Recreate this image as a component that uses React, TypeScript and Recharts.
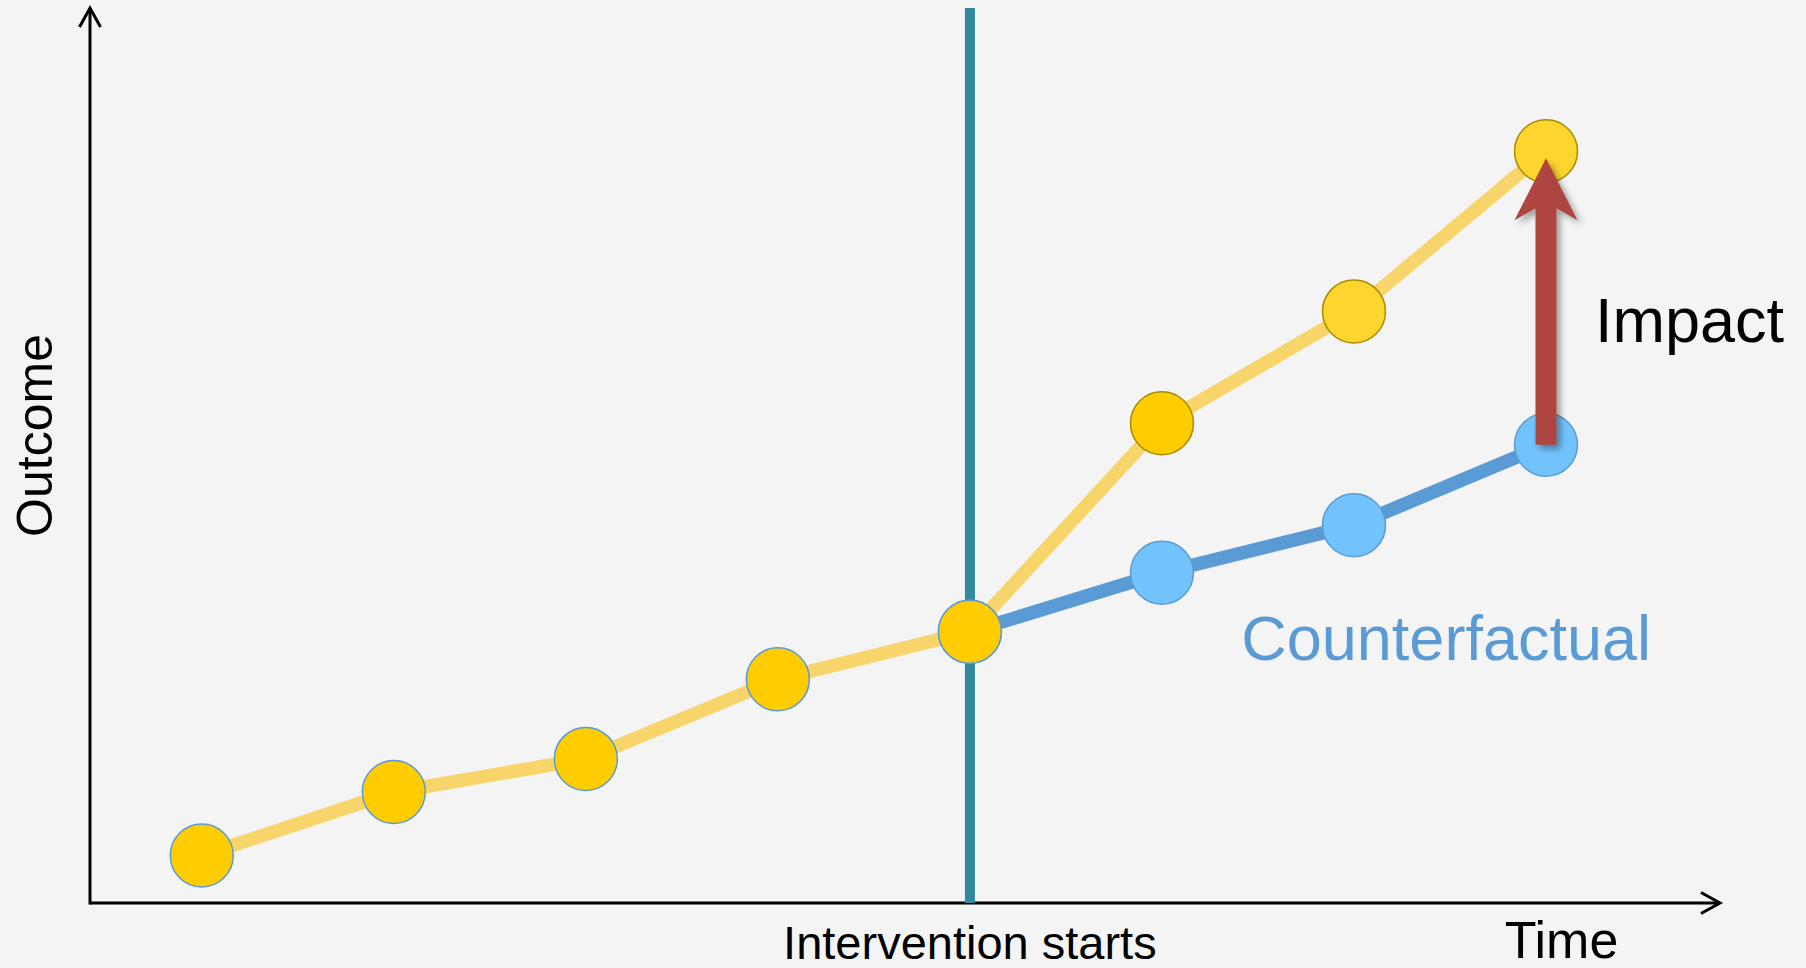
import React from "react";
import {
  ComposedChart,
  Line,
  Scatter,
  XAxis,
  YAxis,
  ReferenceLine,
  ReferenceDot,
} from "recharts";

// ---- data ----
const timePoints = [1, 2, 3, 4, 5, 6, 7, 8];
const outcome = [5.3, 12.4, 16.1, 25.0, 30.3, 53.6, 66.1, 84.0];
const counterfactual = [null, null, null, null, 30.3, 36.9, 42.2, 51.2];
const interventionTime = 5;
const xDomain: [number, number] = [0.418, 8.906];
const yDomain: [number, number] = [0, 100];
const labels = {
  x: "Time",
  y: "Outcome",
  intervention: "Intervention starts",
  impact: "Impact",
  counterfactual: "Counterfactual",
};

// ---- styles ----
const FONT = "'Liberation Sans', Arial, sans-serif";
const BG = "#f4f4f4";
const YELLOW_LINE = "#f7d56b";
const BLUE_LINE = "#5b9bd5";
const TEAL = "#31879e";
const ARROW_RED = "#ae4440";
const outcomeDotFill = ["#ffcc00", "#ffcc00", "#ffcc00", "#ffcc00", "#ffcc00", "#ffcc00", "#fcd62e", "#fcd62e"];
const outcomeDotStroke = ["#5b9bd5", "#5b9bd5", "#5b9bd5", "#5b9bd5", "#5b9bd5", "#a88c00", "#a88c00", "#a88c00"];
const cfDotFill = "#72c2fc";
const cfDotStroke = "#5b9bd5";
const DOT_R = 31.5;
const LINE_W = 13.5;

const rows = timePoints.map((t, i) => ({
  t,
  outcome: outcome[i],
  cf: counterfactual[i],
}));
const cfRows = rows.filter((r) => r.cf !== null);

const OutcomeDot = (p: any) => {
  const i = timePoints.indexOf(p.payload.t);
  return (
    <circle
      cx={p.cx}
      cy={p.cy}
      r={DOT_R}
      fill={outcomeDotFill[i]}
      stroke={outcomeDotStroke[i]}
      strokeWidth={1.5}
    />
  );
};

const CfDot = (p: any) => (
  <circle cx={p.cx} cy={p.cy} r={DOT_R} fill={cfDotFill} stroke={cfDotStroke} strokeWidth={1.5} />
);

const XAxisShape = (p: any) => {
  const { x1, y1, x2, y2 } = p;
  return (
    <g>
      <line x1={x1} y1={y1} x2={x2} y2={y2} stroke="#000" strokeWidth={3} />
      <polyline
        points={`${x2 - 19},${y2 - 10.5} ${x2},${y2} ${x2 - 19},${y2 + 10.5}`}
        fill="none"
        stroke="#000"
        strokeWidth={3}
      />
      <text
        x={x2 - 158.5}
        y={y2 + 55}
        textAnchor="middle"
        fontFamily={FONT}
        fontSize={52}
        fill="#000"
      >
        {labels.x}
      </text>
    </g>
  );
};

const YAxisShape = (p: any) => {
  const { x1, y1, x2, y2 } = p;
  const top = Math.min(y1, y2);
  const bottom = Math.max(y1, y2);
  const tx = x1 - 38;
  const ty = (top + bottom) / 2 - 20;
  return (
    <g>
      <line x1={x1} y1={bottom + 1.5} x2={x2} y2={top} stroke="#000" strokeWidth={3} />
      <polyline
        points={`${x2 - 10.5},${top + 19} ${x2},${top} ${x2 + 10.5},${top + 19}`}
        fill="none"
        stroke="#000"
        strokeWidth={3}
      />
      <text
        x={tx}
        y={ty}
        transform={`rotate(-90, ${tx}, ${ty})`}
        textAnchor="middle"
        fontFamily={FONT}
        fontSize={50}
        fill="#000"
      >
        {labels.y}
      </text>
    </g>
  );
};

const InterventionShape = (p: any) => {
  const { x1, y1, x2, y2 } = p;
  const bottom = Math.max(y1, y2);
  return (
    <g>
      <line x1={x1} y1={y1} x2={x2} y2={y2} stroke={TEAL} strokeWidth={10} />
      <text
        x={x1}
        y={bottom + 56}
        textAnchor="middle"
        fontFamily={FONT}
        fontSize={47}
        fill="#000"
      >
        {labels.intervention}
      </text>
    </g>
  );
};

const ImpactArrowShape = (p: any) => {
  const { x1, y1, y2 } = p;
  const bottom = Math.max(y1, y2);
  const top = Math.min(y1, y2);
  const tip = top + 7;
  const headBase = top + 69;
  const hw = 31.5;
  const sw = 10.5;
  const x = x1;
  const pts = [
    [x, tip],
    [x + hw, headBase],
    [x + sw, headBase - 12],
    [x + sw, bottom],
    [x - sw, bottom],
    [x - sw, headBase - 12],
    [x - hw, headBase],
  ]
    .map((q) => q.join(","))
    .join(" ");
  return (
    <g>
      <defs>
        <filter id="arrowShadow" x="-50%" y="-20%" width="200%" height="140%">
          <feDropShadow dx={4} dy={4} stdDeviation={3} floodColor="#000" floodOpacity={0.35} />
        </filter>
      </defs>
      <polygon points={pts} fill={ARROW_RED} filter="url(#arrowShadow)" />
      <text
        x={x + 49}
        y={top + 191}
        textAnchor="start"
        fontFamily={FONT}
        fontSize={63}
        fill="#000"
      >
        {labels.impact}
      </text>
    </g>
  );
};

const CounterfactualLabel = (p: any) => (
  <text
    x={p.cx + 105}
    y={p.cy + 215}
    textAnchor="end"
    fontFamily={FONT}
    fontSize={63}
    fill={BLUE_LINE}
  >
    {labels.counterfactual}
  </text>
);

export default function App() {
  const last = timePoints.length - 1;
  return (
    <div
      style={{
        position: "absolute",
        left: 0,
        top: 0,
        width: 1806,
        height: 968,
        background: BG,
        overflow: "hidden",
      }}
    >
      <ComposedChart
        width={1806}
        height={968}
        data={rows}
        margin={{ top: 8, right: 86, bottom: 65, left: 90 }}
      >
        <XAxis type="number" dataKey="t" domain={xDomain} allowDataOverflow hide />
        <YAxis type="number" domain={yDomain} allowDataOverflow hide />
        <ReferenceLine
          segment={[
            { x: xDomain[0], y: yDomain[0] },
            { x: xDomain[1], y: yDomain[0] },
          ]}
          ifOverflow="visible"
          shape={XAxisShape}
          zIndex={350}
        />
        <ReferenceLine
          segment={[
            { x: xDomain[0], y: yDomain[0] },
            { x: xDomain[0], y: yDomain[1] },
          ]}
          ifOverflow="visible"
          shape={YAxisShape}
          zIndex={350}
        />
        <ReferenceLine
          x={interventionTime}
          ifOverflow="visible"
          shape={InterventionShape}
          zIndex={350}
        />
        <Line
          type="linear"
          dataKey="outcome"
          stroke={YELLOW_LINE}
          strokeWidth={LINE_W}
          dot={false}
          activeDot={false}
          isAnimationActive={false}
          strokeLinejoin="round"
        />
        <Line
          type="linear"
          dataKey="cf"
          stroke={BLUE_LINE}
          strokeWidth={LINE_W}
          dot={false}
          activeDot={false}
          isAnimationActive={false}
          strokeLinejoin="round"
        />
        <Scatter data={cfRows} dataKey="cf" shape={CfDot} isAnimationActive={false} />
        <Scatter data={rows} dataKey="outcome" shape={OutcomeDot} isAnimationActive={false} />
        <ReferenceLine
          segment={[
            { x: timePoints[last], y: counterfactual[last] as number },
            { x: timePoints[last], y: outcome[last] },
          ]}
          ifOverflow="visible"
          shape={ImpactArrowShape}
          zIndex={800}
        />
        <ReferenceDot
          x={timePoints[last]}
          y={counterfactual[last] as number}
          r={0}
          ifOverflow="visible"
          shape={CounterfactualLabel}
          zIndex={800}
        />
      </ComposedChart>
    </div>
  );
}
